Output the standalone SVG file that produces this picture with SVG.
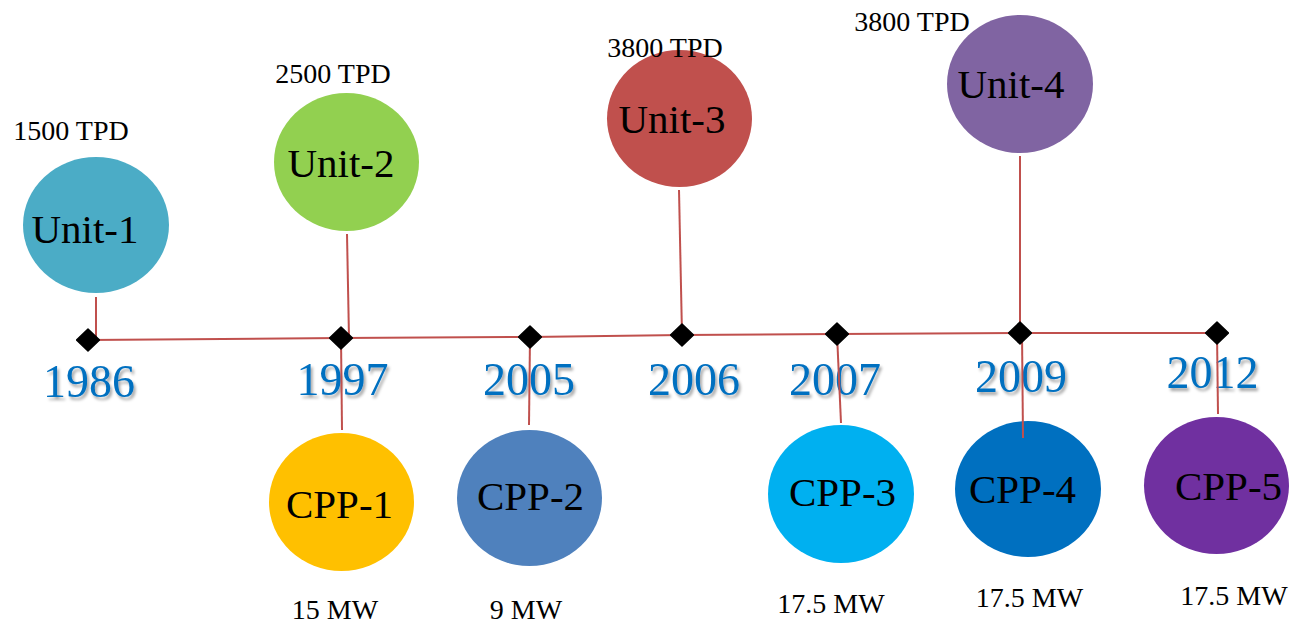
<svg xmlns="http://www.w3.org/2000/svg" width="1293" height="624" viewBox="0 0 1293 624">
<style>
.lbl{font-family:"Liberation Serif","Times New Roman",serif;fill:#000;text-anchor:middle}
.big{font-size:41px}
.small{font-size:28px}
.yr{font-family:"Liberation Serif","Times New Roman",serif;font-size:46px;fill:#0070C0;text-anchor:middle;filter:url(#sh)}
.con{stroke:#C0504D;stroke-width:2;fill:none}
</style>
<defs>
<filter id="sh" x="-20%" y="-20%" width="140%" height="150%">
<feDropShadow dx="2" dy="3" stdDeviation="1.5" flood-color="#000" flood-opacity="0.35"/>
</filter>
<marker id="dia" viewBox="-12 -12 24 24" markerWidth="24" markerHeight="24" markerUnits="userSpaceOnUse" refX="0" refY="0" orient="0">
<path d="M0,-11 L11.5,0 L0,11 L-11.5,0 Z" fill="#000" stroke="#000" stroke-width="1.5" stroke-linejoin="round"/>
</marker>
</defs>
<rect width="1293" height="624" fill="#fff"/>

<g id="unit-1"><ellipse cx="96" cy="225" rx="73" ry="68" fill="#4BACC6"/><text class="lbl big" x="85" y="243">Unit-1</text><text class="lbl small" x="71" y="140">1500 TPD</text></g>
<g id="unit-2"><ellipse cx="346.5" cy="162" rx="72.5" ry="69" fill="#92D050"/><text class="lbl big" x="341" y="177">Unit-2</text><text class="lbl small" x="333" y="83">2500 TPD</text></g>
<g id="unit-3"><ellipse cx="679.5" cy="118.5" rx="72.5" ry="68.5" fill="#C0504D"/><text class="lbl big" x="672" y="133">Unit-3</text><text class="lbl small" x="665" y="57">3800 TPD</text></g>
<g id="unit-4"><ellipse cx="1020" cy="84" rx="73" ry="69" fill="#8064A2"/><text class="lbl big" x="1011" y="98">Unit-4</text><text class="lbl small" x="912" y="31">3800 TPD</text></g>

<g id="cpp-1"><ellipse cx="341.5" cy="502" rx="72.5" ry="69" fill="#FFC000"/><text class="lbl big" x="339.5" y="518">CPP-1</text><text class="lbl small" x="335" y="619">15 MW</text></g>
<g id="cpp-2"><ellipse cx="529.5" cy="498" rx="72.5" ry="68" fill="#4F81BD"/><text class="lbl big" x="530.5" y="510">CPP-2</text><text class="lbl small" x="526" y="619">9 MW</text></g>
<g id="cpp-3"><ellipse cx="841" cy="494" rx="73" ry="69" fill="#00B0F0"/><text class="lbl big" x="842.5" y="506">CPP-3</text><text class="lbl small" x="831" y="613">17.5 MW</text></g>
<g id="cpp-4"><ellipse cx="1028" cy="489" rx="73" ry="68" fill="#0070C0"/><text class="lbl big" x="1022.5" y="503">CPP-4</text><text class="lbl small" x="1029.5" y="607">17.5 MW</text></g>
<g id="cpp-5"><ellipse cx="1216.5" cy="485.5" rx="72.5" ry="68.5" fill="#7030A0"/><text class="lbl big" x="1228.5" y="500">CPP-5</text><text class="lbl small" x="1234" y="605">17.5 MW</text></g>

<g id="years">
<text class="yr" x="89" y="397">1986</text>
<text class="yr" x="342.5" y="395">1997</text>
<text class="yr" x="529" y="395">2005</text>
<text class="yr" x="694" y="395">2006</text>
<text class="yr" x="835" y="395">2007</text>
<text class="yr" x="1021" y="392">2009</text>
<text class="yr" x="1212.5" y="388">2012</text>
</g>

<g id="connectors">
<line class="con" x1="96" y1="297" x2="96" y2="340"/>
<line class="con" x1="347" y1="234" x2="349" y2="338"/>
<line class="con" x1="679" y1="190" x2="682" y2="335"/>
<line class="con" x1="1020" y1="156" x2="1020" y2="333"/>
<line class="con" x1="341" y1="338" x2="342" y2="430"/>
<line class="con" x1="530" y1="337" x2="529" y2="425"/>
<line class="con" x1="837" y1="334" x2="841" y2="423"/>
<line class="con" x1="1022" y1="333" x2="1023" y2="438"/>
<line class="con" x1="1217" y1="333" x2="1218" y2="414"/>
<polyline class="con" points="88,340 341,338 530,337 682,335 837,334 1020,333 1217,333" marker-start="url(#dia)" marker-mid="url(#dia)" marker-end="url(#dia)"/>
</g>
</svg>
